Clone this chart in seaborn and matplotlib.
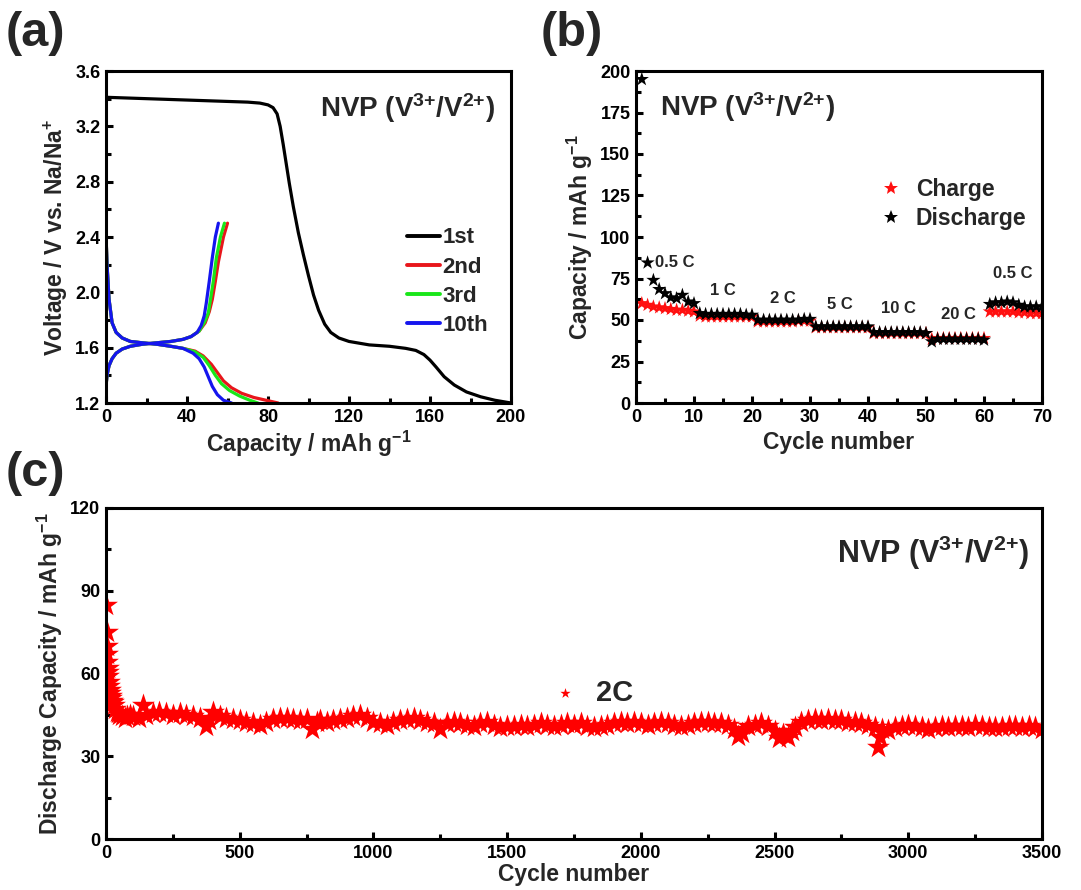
import matplotlib
matplotlib.use('Agg')
import matplotlib.pyplot as plt
from matplotlib.ticker import MultipleLocator, FormatStrFormatter
from matplotlib.lines import Line2D
import pandas as pd
import seaborn as sns

# ---------------- (a) charge/discharge profiles ----------------
cyc1_x = [0, 10, 30, 50, 70, 76, 80, 82.5, 84.5, 86, 87.5, 89, 90.5, 92.5, 95, 97.5, 100, 102.5,
          105, 108, 111, 115, 120, 130, 140, 148, 153, 157, 160, 163, 167, 172, 178, 185, 192, 200]
cyc1_v = [3.41, 3.405, 3.395, 3.385, 3.375, 3.368, 3.355, 3.335, 3.29, 3.20, 3.07, 2.93, 2.79,
          2.62, 2.43, 2.27, 2.12, 1.98, 1.87, 1.77, 1.71, 1.67, 1.645, 1.62, 1.61, 1.595, 1.58,
          1.55, 1.51, 1.46, 1.39, 1.33, 1.28, 1.245, 1.22, 1.20]

dis_common_x = [0, 0.5, 1.5, 3, 5, 8, 12, 18, 25, 32, 38]
dis_common_v = [2.42, 2.2, 1.95, 1.78, 1.71, 1.67, 1.645, 1.635, 1.625, 1.61, 1.595]
chg_common_x = [0, 0.5, 1.5, 3, 5, 8, 12, 18, 25, 32, 38]
chg_common_v = [1.32, 1.40, 1.47, 1.52, 1.56, 1.59, 1.61, 1.625, 1.635, 1.645, 1.66]

cyc2_dis_x = dis_common_x + [44, 48, 52, 55, 58, 62, 67, 73, 79, 85]
cyc2_dis_v = dis_common_v + [1.575, 1.54, 1.48, 1.42, 1.36, 1.31, 1.27, 1.24, 1.22, 1.20]
cyc2_chg_x = chg_common_x + [42, 46, 49, 51, 52.5, 54, 55.5, 58, 60]
cyc2_chg_v = chg_common_v + [1.68, 1.72, 1.78, 1.86, 1.95, 2.08, 2.22, 2.40, 2.50]

cyc3_dis_x = dis_common_x + [44, 48, 51, 54, 57, 61, 66, 71, 75]
cyc3_dis_v = dis_common_v + [1.57, 1.53, 1.47, 1.40, 1.34, 1.29, 1.25, 1.22, 1.20]
cyc3_chg_x = chg_common_x + [42, 46, 48.5, 50.5, 51.5, 53, 54.5, 56.5, 58.5]
cyc3_chg_v = chg_common_v + [1.68, 1.72, 1.78, 1.85, 1.94, 2.08, 2.25, 2.40, 2.50]

cyc10_dis_x = dis_common_x + [43, 46, 48.5, 50.5, 52.5, 55, 58, 62]
cyc10_dis_v = dis_common_v + [1.56, 1.52, 1.46, 1.39, 1.32, 1.26, 1.22, 1.20]
cyc10_chg_x = chg_common_x + [42, 45, 47, 48.5, 49.5, 51, 52.5, 54, 55.5]
cyc10_chg_v = chg_common_v + [1.68, 1.71, 1.76, 1.83, 1.92, 2.08, 2.25, 2.40, 2.50]

# ---------------- (b) rate performance ----------------
rate_cycle = list(range(1, 71))
rate_charge = [60, 59, 58, 57.5, 57, 56.5, 56, 56, 55.5, 55,
               52.5, 52, 52, 52, 52, 52, 52, 52, 52, 52,
               49, 49, 49, 49, 49, 49, 49, 49.5, 49.5, 49.5,
               45.5, 45.5, 45.5, 45.5, 45.5, 45.5, 45.5, 45.5, 45.5, 45.5,
               42, 42, 42, 42, 42, 42, 42, 42, 42, 42,
               38.5, 39, 39, 39, 39, 39, 39, 39, 39, 39,
               55, 55, 55, 55, 55, 54.5, 54.5, 54, 54, 54]
rate_discharge = [195, 84.5, 74, 68.5, 66, 63.5, 63, 65, 61, 60,
                  54, 53.5, 53.5, 53.5, 53.5, 53.5, 53.5, 53.5, 53, 53,
                  50, 50, 50, 50, 50, 50, 50, 50, 50.5, 50.5,
                  46, 46, 46, 46, 46, 46, 46, 46, 46, 46,
                  42.5, 42.5, 42.5, 42.5, 42.5, 42.5, 42.5, 42.5, 42.5, 42,
                  37, 38.5, 38.5, 38.5, 38.5, 38.5, 38.5, 38.5, 38.5, 38,
                  59.5, 60.5, 60.5, 61, 60.5, 59, 58, 58, 58, 58]
rate_labels = ['0.5 C', '1 C', '2 C', '5 C', '10 C', '20 C', '0.5 C']
rate_label_x = [3.3, 15, 25.3, 35.2, 45.2, 55.6, 64.9]
rate_label_y = [84.5, 67.5, 63, 59.6, 57, 53.6, 78]

# ---------------- (c) long cycling at 2C ----------------
long_cycle = [1, 2, 3, 4, 5, 6, 7, 8, 10, 12, 14, 16, 18, 20, 23, 26, 30, 35, 40, 45, 50, 60,
              70, 80, 90, 100, 125, 140, 150, 175, 200, 225, 250, 275, 300, 325, 350, 375, 385,
              400, 425, 450, 475, 500, 525, 550, 575, 600, 625, 650, 675, 700, 725, 750, 770,
              790, 800, 825, 850, 875, 900, 925, 950, 975, 1000, 1025, 1050, 1075, 1100, 1125,
              1150, 1175, 1200, 1225, 1250, 1275, 1300, 1325, 1350, 1375, 1400, 1425, 1450,
              1475, 1500, 1525, 1550, 1575, 1600, 1625, 1650, 1675, 1700, 1725, 1750, 1775,
              1800, 1825, 1850, 1875, 1900, 1925, 1950, 1975, 2000, 2025, 2050, 2075, 2100,
              2125, 2150, 2175, 2200, 2225, 2250, 2275, 2300, 2325, 2350, 2365, 2380, 2400,
              2425, 2450, 2475, 2500, 2515, 2530, 2550, 2565, 2575, 2600, 2625, 2650, 2675,
              2700, 2725, 2750, 2775, 2800, 2825, 2850, 2875, 2885, 2895, 2900, 2925, 2950,
              2975, 3000, 3025, 3050, 3075, 3100, 3125, 3150, 3175, 3200, 3225, 3250, 3275,
              3300, 3325, 3350, 3375, 3400, 3425, 3450, 3475, 3500]
long_capacity = [85, 75, 70, 67, 64, 62, 60.5, 59, 57, 55.5, 54, 53, 52, 51, 50, 49.5, 48.5, 47,
                 46, 45.5, 45, 44.5, 44, 44.5, 45, 44.5, 44, 48.5, 45, 45.5, 46, 45.5, 45, 45.5,
                 45, 44.5, 44, 41, 43, 46, 44.5, 44, 43.5, 43, 42.5, 42, 41.5, 42.5, 43.5, 44,
                 44, 43.5, 43, 43.5, 40, 42.5, 43, 42.5, 43, 43.5, 44, 44.5, 45, 44, 42.5, 42,
                 41.5, 42.5, 43, 43.5, 44, 43, 42.5, 42, 40, 42, 42.5, 42, 41.5, 41, 42, 42.5,
                 41.5, 40.5, 41, 41, 41.5, 41, 41.5, 42, 41.5, 41, 41.5, 42, 41.5, 42, 41,
                 40.5, 41, 41.5, 42, 42.5, 42, 42.5, 42, 41.5, 42, 42.5, 42, 41.5, 41, 41.5, 42,
                 42.5, 42.5, 42, 42, 41.5, 40, 37.5, 38.5, 41, 41.5, 42, 41, 39, 36.5, 38, 37,
                 39, 40.5, 42.5, 43, 43.5, 43, 43.5, 43, 43, 42.5, 42.5, 42, 41.5, 40.5, 33.5,
                 37, 40, 39.5, 40.5, 41, 41.5, 41, 40.5, 40, 40.5, 41, 40.5, 41, 41, 40.5, 41.5,
                 41, 40.5, 40.5, 40.5, 41, 41, 40.5, 41, 40.5, 40]

# ---------------- style ----------------
sns.set_style('ticks')
plt.rcParams['font.family'] = ['Liberation Sans', 'DejaVu Sans']
plt.rcParams['font.weight'] = 'bold'
plt.rcParams['axes.labelweight'] = 'bold'
plt.rcParams['mathtext.fontset'] = 'custom'
plt.rcParams['mathtext.rm'] = 'Liberation Sans:bold'
plt.rcParams['mathtext.bf'] = 'Liberation Sans:bold'
plt.rcParams['mathtext.it'] = 'Liberation Sans:bold:italic'
plt.rcParams['mathtext.default'] = 'rm'
plt.rcParams['axes.linewidth'] = 2.2
plt.rcParams['axes.edgecolor'] = 'black'
plt.rcParams['xtick.color'] = 'black'
plt.rcParams['ytick.color'] = 'black'

TICK_FS = 13
LABEL_FS = 16.5
nvp_text = r'NVP (V$^{3{+}}$/V$^{2{+}}$)'

fig = plt.figure(figsize=(10.81, 8.9), dpi=100)
W, H = 1081, 890


def px_axes(left, top, right, bottom):
    return fig.add_axes([left / W, 1 - bottom / H, (right - left) / W, (bottom - top) / H])


def style_axes(ax, xmaj, xmin, ymaj, ymin):
    ax.xaxis.set_major_locator(MultipleLocator(xmaj))
    ax.xaxis.set_minor_locator(MultipleLocator(xmin))
    ax.yaxis.set_major_locator(MultipleLocator(ymaj))
    ax.yaxis.set_minor_locator(MultipleLocator(ymin))
    ax.tick_params(which='both', direction='in', top=False, right=False, width=2.2)
    ax.tick_params(which='major', length=5, labelsize=TICK_FS, pad=4)
    ax.tick_params(which='minor', length=3.5)
    for s in ax.spines.values():
        s.set_visible(True)
        s.set_linewidth(2.2)
    for lbl in ax.get_xticklabels() + ax.get_yticklabels():
        lbl.set_fontweight('bold')


# ---- panel (a)
ax_a = px_axes(106, 71, 511, 403)
series_a = [
    ('1st', 'black', [(cyc1_x, cyc1_v)]),
    ('2nd', '#e8161b', [(cyc2_dis_x, cyc2_dis_v), (cyc2_chg_x, cyc2_chg_v)]),
    ('3rd', '#19e619', [(cyc3_dis_x, cyc3_dis_v), (cyc3_chg_x, cyc3_chg_v)]),
    ('10th', '#1515ee', [(cyc10_dis_x, cyc10_dis_v), (cyc10_chg_x, cyc10_chg_v)]),
]
handles = []
for name, col, branches in series_a:
    for bx, bv in branches:
        sns.lineplot(x=bx, y=bv, color=col, linewidth=2.3, sort=False, estimator=None, ax=ax_a)
    handles.append(Line2D([], [], color=col, linewidth=2.8, label=name))
ax_a.set_xlim(0, 200)
ax_a.set_ylim(1.2, 3.6)
style_axes(ax_a, 40, 20, 0.4, 0.2)
ax_a.yaxis.set_major_formatter(FormatStrFormatter('%.1f'))
ax_a.set_xlabel(r'Capacity / mAh g$^{-1}$', fontsize=LABEL_FS, labelpad=2)
ax_a.set_ylabel(r'Voltage / V vs. Na/Na$^{+}$', fontsize=LABEL_FS, labelpad=4)
ax_a.legend(handles=handles, loc='upper left', bbox_to_anchor=(0.743, 0.529), frameon=False,
            fontsize=16, handlelength=1.5, handletextpad=0.1, labelspacing=0.37, borderpad=0,
            borderaxespad=0)
ax_a.text(0.528, 0.889, nvp_text, transform=ax_a.transAxes, fontsize=20, fontweight='bold',
          ha='left', va='center')
fig.text(35 / W, 1 - 33 / H, '(a)', fontsize=35, fontweight='bold', ha='center', va='center')

# ---- panel (b)
ax_b = px_axes(636, 71, 1042, 403)
rate_df = pd.DataFrame({'cycle': rate_cycle + rate_cycle,
                        'capacity': rate_charge + rate_discharge,
                        'kind': ['Charge'] * 70 + ['Discharge'] * 70})
sns.scatterplot(data=rate_df, x='cycle', y='capacity', hue='kind',
                palette={'Charge': '#ff1010', 'Discharge': 'black'},
                marker='*', s=115, linewidth=0, ax=ax_b)
ax_b.set_xlim(0, 70)
ax_b.set_ylim(0, 200)
style_axes(ax_b, 10, 5, 25, 12.5)
ax_b.set_xlabel('Cycle number', fontsize=LABEL_FS, labelpad=4)
ax_b.set_ylabel(r'Capacity / mAh g$^{-1}$', fontsize=LABEL_FS, labelpad=4)
ax_b.legend(loc='upper left', bbox_to_anchor=(0.599, 0.678), frameon=False, fontsize=16.5,
            handlelength=1.0, handletextpad=0.6, labelspacing=0.28, borderpad=0,
            borderaxespad=0, markerscale=1.0)
for lab, lx, ly in zip(rate_labels, rate_label_x, rate_label_y):
    ha = 'left' if lab == '0.5 C' and lx < 10 else 'center'
    ax_b.text(lx, ly, lab, fontsize=12, fontweight='bold', ha=ha, va='center')
ax_b.text(0.059, 0.892, nvp_text, transform=ax_b.transAxes, fontsize=20, fontweight='bold',
          ha='left', va='center')
fig.text(572 / W, 1 - 33 / H, '(b)', fontsize=35, fontweight='bold', ha='center', va='center')

# ---- panel (c)
ax_c = px_axes(106, 508, 1042, 839)
sns.scatterplot(x=long_cycle, y=long_capacity, color='#ff0000', marker='*', s=300,
                linewidth=0, ax=ax_c, label='2C')
ax_c.set_xlim(0, 3500)
ax_c.set_ylim(0, 120)
style_axes(ax_c, 500, 250, 30, 15)
ax_c.set_xlabel('Cycle number', fontsize=LABEL_FS, labelpad=1)
ax_c.set_ylabel(r'Discharge Capacity / mAh g$^{-1}$', fontsize=LABEL_FS, labelpad=4)
ax_c.legend(loc='center left', bbox_to_anchor=(0.475, 0.441), frameon=False, fontsize=21,
            handlelength=1.0, handletextpad=0.55, borderpad=0, borderaxespad=0,
            markerscale=0.45)
ax_c.text(0.781, 0.864, nvp_text, transform=ax_c.transAxes, fontsize=22, fontweight='bold',
          ha='left', va='center')
fig.text(35 / W, 1 - 473 / H, '(c)', fontsize=35, fontweight='bold', ha='center', va='center')

fig.savefig('out.png', dpi=100)
